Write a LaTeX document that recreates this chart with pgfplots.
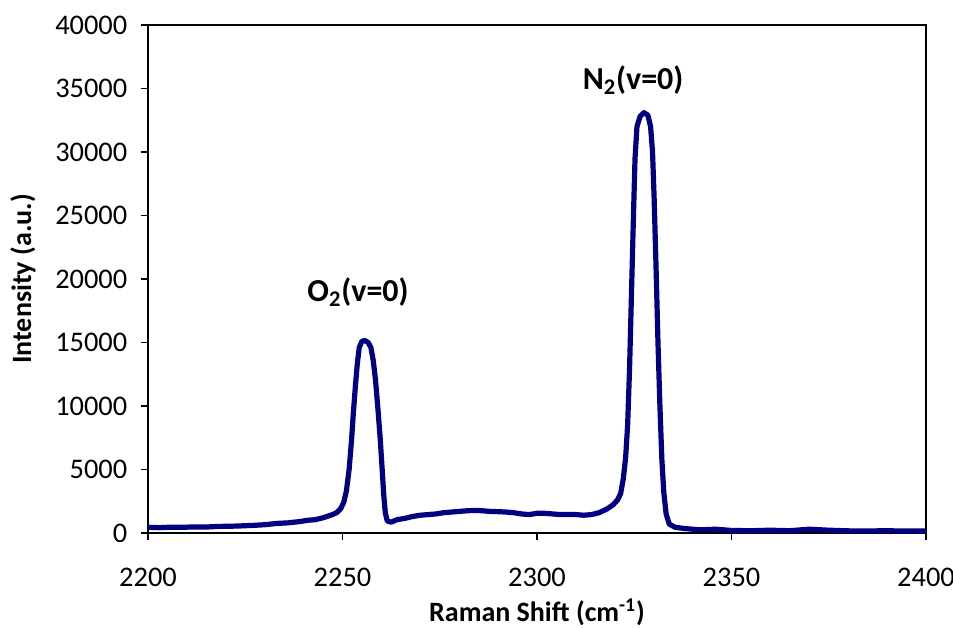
\documentclass[border=0pt]{standalone}
\usepackage{fontspec}
\setmainfont{Carlito}
\usepackage{pgfplots}
\pgfplotsset{compat=1.18}
\definecolor{navyline}{RGB}{0,0,128}

\begin{document}
\fontsize{14}{16}\selectfont
\begin{tikzpicture}
\begin{axis}[
    scale only axis,
    width=389pt,
    height=254pt,
    xmin=2200, xmax=2400,
    ymin=0, ymax=40000,
    xtick={2200,2250,...,2400},
    ytick={0,5000,...,40000},
    tick pos=left,
    tick align=outside,
    major tick length=3.5pt,
    tick style={black, line width=0.6pt},
    axis line style={black, line width=0.6pt},
    /pgf/number format/assume math mode=true,
    /pgf/number format/1000 sep={},
    scaled y ticks=false,
    tick label style={font=\fontsize{14.2}{16}\selectfont},
    yticklabel style={xshift=-2pt},
    xticklabel style={yshift=-9pt},
    xlabel={\textbf{Raman Shift (cm\textsuperscript{-1})}},
    ylabel={\textbf{Intensity (a.u.)}},
    label style={font=\fontsize{14}{16}\selectfont},
    xlabel style={at={(axis description cs:0.5,0)}, anchor=center, yshift=-39.5pt},
    ylabel style={at={(axis description cs:0,0.5)}, anchor=center, yshift=62.5pt},
    clip=true,
]
\addplot[navyline, line width=2.6pt, line join=round, line cap=round] coordinates {
(2200,450) (2203,420) (2206,460) (2209,450) (2212,480) (2215,470) (2218,520)
(2221,530) (2224,560) (2227,600) (2230,650) (2233,750) (2236,800) (2239,900)
(2241,1000) (2243,1050) (2245,1200) (2247,1400) (2248.5,1600) (2249.5,1900)
(2250.3,2400) (2251,3300) (2251.7,5000) (2252.3,7200) (2252.8,9500)
(2253.3,11500) (2253.8,13300) (2254.3,14600) (2255,15100) (2255.8,15150)
(2256.6,15000) (2257.3,14600) (2257.9,13600) (2258.5,12000) (2259.1,9800)
(2259.7,7400) (2260.2,5000) (2260.6,3000) (2261,1600) (2261.5,950)
(2262.5,850) (2264,1050) (2266,1150) (2268,1300) (2270,1400) (2272,1450)
(2274,1500) (2276,1600) (2278,1650) (2280,1700) (2282,1750) (2284,1780)
(2286,1750) (2288,1700) (2290,1680) (2292,1650) (2294,1600) (2296,1500)
(2298,1450) (2300,1550) (2302,1550) (2304,1500) (2306,1450) (2308,1450)
(2310,1450) (2312,1400) (2314,1450) (2316,1600) (2318,1900) (2319.5,2200)
(2320.7,2600) (2321.5,3100) (2322.2,4300) (2322.8,6000) (2323.3,8500)
(2323.8,13000) (2324.3,19000) (2324.8,25000) (2325.2,29500) (2325.7,32000)
(2326.5,32800) (2327.5,33100) (2328.5,32900) (2329.2,32000) (2329.7,30000)
(2330.1,26500) (2330.6,21000) (2331.1,15000) (2331.6,10000) (2332.1,5800)
(2332.6,3200) (2333.2,1500) (2334,700) (2335.5,450) (2338,350) (2342,250)
(2346,300) (2350,200) (2355,180) (2360,220) (2365,180) (2370,300) (2375,220)
(2380,170) (2385,160) (2390,180) (2395,150) (2400,150)
};
\node[font=\bfseries\fontsize{16}{18}\selectfont] at (axis cs:2254,18970) {O\textsubscript{2}(v=0)};
\node[font=\bfseries\fontsize{16}{18}\selectfont] at (axis cs:2324.7,35650) {N\textsubscript{2}(v=0)};
\end{axis}
\pgfresetboundingbox
\path (-74pt,-47pt) rectangle (402.5pt,266.5pt);
\end{tikzpicture}
\end{document}
